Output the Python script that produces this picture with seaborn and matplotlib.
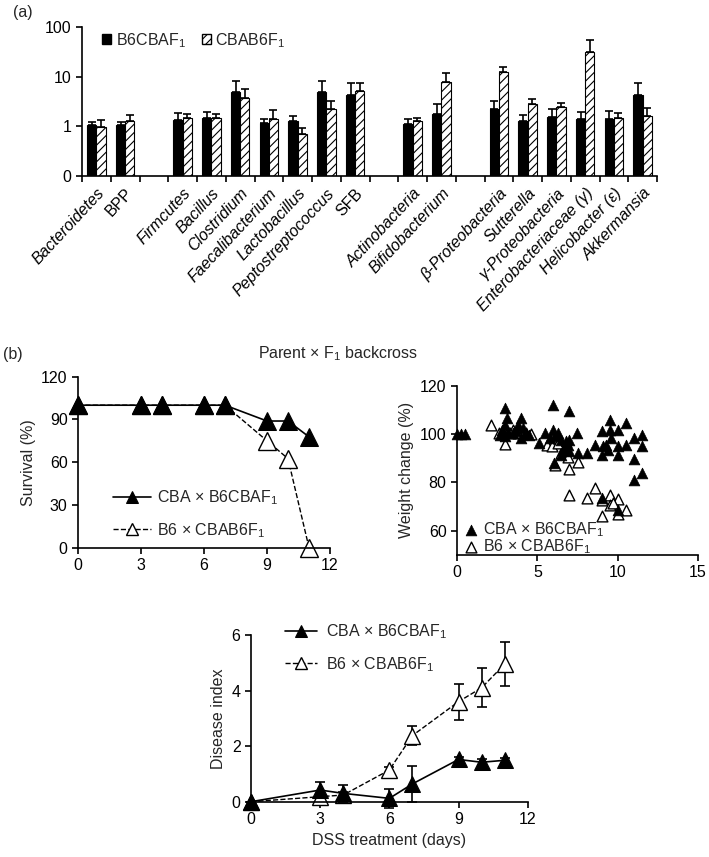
import numpy as np
import pandas as pd
import matplotlib
matplotlib.use("Agg")
import matplotlib.pyplot as plt
from matplotlib.patches import Patch
from matplotlib.ticker import NullLocator, FixedLocator
import seaborn as sns

sns.set_style("ticks")
plt.rcParams['font.family'] = ['Liberation Sans', 'DejaVu Sans']
plt.rcParams['mathtext.fontset'] = 'custom'
plt.rcParams['mathtext.rm'] = 'Liberation Sans'
plt.rcParams['mathtext.it'] = 'Liberation Sans:italic'
plt.rcParams['font.size'] = 11.5
plt.rcParams['hatch.linewidth'] = 0.8
plt.rcParams['axes.linewidth'] = 1.2
plt.rcParams['xtick.major.width'] = 1.2
plt.rcParams['ytick.major.width'] = 1.2
plt.rcParams['xtick.minor.width'] = 1.2
plt.rcParams['xtick.color'] = 'black'
plt.rcParams['ytick.color'] = 'black'
plt.rcParams['axes.edgecolor'] = 'black'

FS = 11.5

# ---------------- data: panel (a) ----------------
taxa = ['Bacteroidetes', 'BPP', ' ', 'Firmcutes', 'Bacillus', 'Clostridium',
        'Faecalibacterium', 'Lactobacillus', 'Peptostreptococcus', 'SFB', '  ',
        'Actinobacteria', 'Bifidobacterium', '   ', 'β-Proteobacteria', 'Sutterella',
        'γ-Proteobacteria', 'Enterobacteriaceae (γ)', 'Helicobacter (ε)', 'Akkermansia']
present_taxa = [t for t in taxa if t.strip()]
b6cbaf1 = [1.06, 1.06, 1.36, 1.45, 5.0, 1.15, 1.26, 5.0, 4.37, 1.13, 1.79,
           2.19, 1.26, 1.56, 1.42, 1.42, 4.37]
b6cbaf1_top = [1.2, 1.2, 1.82, 1.93, 8.1, 1.42, 1.63, 8.3, 7.36, 1.4, 2.76,
               3.3, 1.66, 2.19, 1.9, 2.0, 7.36]
cbab6f1 = [0.97, 1.26, 1.5, 1.47, 3.8, 1.42, 0.70, 2.25, 5.1, 1.26, 7.9,
           12.2, 2.8, 2.44, 31.6, 1.47, 1.61]
cbab6f1_top = [1.36, 1.66, 1.8, 1.74, 5.6, 2.09, 0.93, 3.26, 7.3, 1.49, 11.7,
               15.4, 3.6, 3.0, 55.8, 1.85, 2.29]
bar_yticks = [0.1, 1, 10, 100]
bar_yticklabels = ['0', '1', '10', '100']

# ---------------- data: survival ----------------
days = [0, 3, 4, 6, 7, 9, 10, 11]
surv_cba = [100, 100, 100, 100, 100, 88.9, 88.9, 77.8]
surv_b6 = [100, 100, 100, 100, 100, 75, 62.5, 0]

# ---------------- data: weight change ----------------
w_cba_x = [0.0, 0.25, 0.5, 3.0, 3.1, 3.0, 2.8, 3.2, 2.7, 3.0, 3.5, 4.0, 3.8, 4.1,
           4.3, 4.0, 4.5, 3.7, 6.0, 7.0, 5.1, 5.5, 6.0, 6.1, 5.8, 6.3, 6.5, 6.8,
           6.05, 6.5, 6.6, 6.9, 7.0, 7.45, 7.0, 6.7, 7.5, 8.1, 8.6, 9.0, 9.1, 9.0,
           9.5, 9.5, 9.6, 9.3, 9.4, 10.0, 10.0, 10.05, 10.5, 10.5, 11.0, 11.0,
           11.0, 11.5, 11.5, 11.5, 9.0, 10.0]
w_cba_y = [100, 100, 100, 110.7, 106.6, 103.9, 101.8, 101.0, 99.7, 99.0, 100.4,
           106.6, 103.9, 102.5, 100.4, 98.4, 99.7, 101.1, 112.1, 109.4, 96.3,
           100.4, 101.8, 99.0, 98.4, 100.4, 97.7, 97.0, 88.0, 91.5, 93.5, 95.6,
           97.7, 100.4, 92.8, 94.9, 92.1, 92.1, 95.6, 101.1, 94.9, 91.5, 105.9,
           101.8, 98.4, 95.6, 93.5, 101.8, 94.9, 91.5, 104.5, 95.6, 98.4, 89.8,
           81.1, 99.7, 95.2, 83.9, 73.5, 68.7]
w_b6_x = [2.1, 3.0, 2.6, 2.9, 3.5, 3.8, 3.3, 4.3, 4.6, 5.6, 5.9, 6.1, 6.5, 6.9,
          7.0, 7.5, 7.0, 8.1, 8.6, 9.0, 9.5, 9.5, 9.0, 10.0, 10.0, 10.5, 9.7,
          6.3, 6.8]
w_b6_y = [103.9, 95.9, 100.4, 101.4, 101.8, 100.4, 100.4, 100.4, 100.0, 95.6,
          94.9, 87.3, 92.1, 90.7, 85.6, 88.4, 74.9, 73.5, 77.7, 72.9, 74.9, 70.8,
          66.0, 73.1, 66.9, 68.7, 71.5, 96.3, 93.5]

# ---------------- data: disease index ----------------
di_cba = [0, 0.42, 0.30, 0.12, 0.64, 1.52, 1.42, 1.49]
di_cba_err = [0, 0.30, 0.31, 0.33, 0.64, 0.1, 0.1, 0.1]
di_b6 = [0, 0.18, 0.24, 1.14, 2.38, 3.60, 4.10, 4.95]
di_b6_err = [0, 0.1, 0.1, 0.1, 0.35, 0.65, 0.70, 0.80]

lab_cba = 'CBA × B6CBAF$_1$'
lab_b6 = 'B6 × CBAB6F$_1$'

fig = plt.figure(figsize=(7.09, 8.57), dpi=100)
W, H = 709.0, 857.0


def axes_px(l, t, r, b):
    return fig.add_axes([l / W, 1 - b / H, (r - l) / W, (b - t) / H])


# ================= panel (a) =================
ax = axes_px(82, 27, 657, 176)
df = pd.DataFrame({
    'taxon': present_taxa * 2,
    'strain': ['B6CBAF1'] * len(present_taxa) + ['CBAB6F1'] * len(present_taxa),
    'value': b6cbaf1 + cbab6f1,
})
tops = {('B6CBAF1', t): v for t, v in zip(present_taxa, b6cbaf1_top)}
tops.update({('CBAB6F1', t): v for t, v in zip(present_taxa, cbab6f1_top)})
vals = {('B6CBAF1', t): v for t, v in zip(present_taxa, b6cbaf1)}
vals.update({('CBAB6F1', t): v for t, v in zip(present_taxa, cbab6f1)})

sns.barplot(data=df, x='taxon', y='value', hue='strain', order=taxa,
            hue_order=['B6CBAF1', 'CBAB6F1'],
            palette={'B6CBAF1': 'black', 'CBAB6F1': 'white'},
            width=0.64, gap=0, edgecolor='black', linewidth=0.8,
            errorbar=None, ax=ax, legend=False)
ax.set_yscale('log')
for ci, strain in enumerate(['B6CBAF1', 'CBAB6F1']):
    cont = ax.containers[ci]
    xs, ys, es = [], [], []
    for bar in cont:
        h = bar.get_height()
        if not np.isfinite(h) or h <= 0:
            continue
        xc = bar.get_x() + bar.get_width() / 2
        name = taxa[int(round(xc))]
        if (strain, name) not in vals:
            continue
        if strain == 'CBAB6F1':
            bar.set_hatch('////')
        xs.append(xc)
        ys.append(vals[(strain, name)])
        es.append(tops[(strain, name)] - vals[(strain, name)])
    ax.errorbar(xs, ys, yerr=[np.zeros(len(es)), es], fmt='none',
                ecolor='black', elinewidth=1.2, capsize=3, capthick=1.2, zorder=1)

ax.set_ylim(0.1, 100)
ax.set_xlim(-0.5, len(taxa) - 0.5)
ax.yaxis.set_major_locator(FixedLocator(bar_yticks))
ax.yaxis.set_minor_locator(NullLocator())
ax.set_yticklabels(bar_yticklabels, fontsize=FS)
ax.set_xticks(range(len(taxa)))
ax.set_xticklabels([t.strip() for t in taxa], rotation=47, ha='right', va='top',
                   rotation_mode='anchor', fontsize=FS)
for tl, t in zip(ax.get_xticklabels(), taxa):
    if t.strip() not in ('BPP', 'SFB'):
        tl.set_fontstyle('italic')
ax.tick_params(axis='x', which='major', length=0, pad=7)
ax.set_xticks(np.arange(-0.5, len(taxa)), minor=True)
ax.tick_params(axis='x', which='minor', length=4, direction='out')
ax.tick_params(axis='y', length=4, direction='out')
ax.set_xlabel('')
ax.set_ylabel('')
sns.despine(ax=ax)
handles = [Patch(facecolor='black', edgecolor='black'),
           Patch(facecolor='white', edgecolor='black', hatch='////')]
ax.legend(handles, ['B6CBAF$_1$', 'CBAB6F$_1$'], loc='upper left',
          bbox_to_anchor=(0.01, 1.07), ncol=2, frameon=False, fontsize=FS,
          handlelength=0.55, handleheight=0.55, handletextpad=0.3, columnspacing=1.0)

fig.text(13 / W, 1 - 12 / H, '(a)', fontsize=FS, va='center', ha='left')
fig.text(3 / W, 1 - 354 / H, '(b)', fontsize=FS, va='center', ha='left')
fig.text(338 / W, 1 - 354 / H, 'Parent × F$_1$ backcross', fontsize=FS,
         va='center', ha='center')

# ================= survival =================
axs = axes_px(78, 376.7, 330, 547.7)
sns.lineplot(x=days, y=surv_cba, ax=axs, color='black', marker='^', markersize=13,
             markerfacecolor='black', markeredgecolor='black', linewidth=1.2,
             label=lab_cba, clip_on=False, zorder=3)
sns.lineplot(x=days, y=surv_b6, ax=axs, color='black', marker='^', markersize=13,
             markerfacecolor='white', markeredgecolor='black', markeredgewidth=1.0,
             linewidth=1.0, linestyle='--', label=lab_b6, clip_on=False, zorder=2)
axs.set_xlim(0, 12)
axs.set_ylim(0, 120)
axs.set_xticks([0, 3, 6, 9, 12])
axs.set_yticks([0, 30, 60, 90, 120])
axs.tick_params(labelsize=FS, length=4, direction='out')
axs.set_ylabel('Survival (%)', fontsize=FS)
sns.despine(ax=axs)
axs.legend(loc='upper left', bbox_to_anchor=(0.08, 0.43), frameon=False,
           fontsize=FS, handlelength=2.4, markerscale=0.7, labelspacing=0.85,
           handletextpad=0.4)

# ================= weight change =================
axw = axes_px(457, 385.7, 698, 555)
sns.scatterplot(x=w_b6_x, y=w_b6_y, ax=axw, marker='^', s=60, facecolor='white',
                edgecolor='black', linewidth=1.0, label=lab_b6, clip_on=False, zorder=2)
sns.scatterplot(x=w_cba_x, y=w_cba_y, ax=axw, marker='^', s=60, color='black',
                edgecolor='black', linewidth=0.5, label=lab_cba, clip_on=False, zorder=3)
axw.set_xlim(0, 15)
axw.set_ylim(50, 120)
axw.set_xticks([0, 5, 10, 15])
axw.set_yticks([60, 80, 100, 120])
axw.tick_params(labelsize=FS, length=4, direction='out')
axw.set_ylabel('Weight change (%)', fontsize=FS)
sns.despine(ax=axw)
h, l = axw.get_legend_handles_labels()
axw.legend([h[1], h[0]], [l[1], l[0]], loc='lower left', bbox_to_anchor=(-0.02, -0.07),
           frameon=False, fontsize=FS, labelspacing=-0.1, handletextpad=0.2,
           borderpad=0.2, handlelength=1.0)

# ================= disease index =================
axd = axes_px(251, 635, 527.7, 801.7)
sns.lineplot(x=days, y=di_cba, ax=axd, color='black', marker='^', markersize=12,
             markerfacecolor='black', markeredgecolor='black', linewidth=1.2,
             label=lab_cba, clip_on=False, zorder=3)
sns.lineplot(x=days, y=di_b6, ax=axd, color='black', marker='^', markersize=12,
             markerfacecolor='white', markeredgecolor='black', markeredgewidth=1.0,
             linewidth=1.0, linestyle='--', label=lab_b6, clip_on=False, zorder=2)
axd.errorbar(days, di_cba, yerr=di_cba_err, fmt='none', ecolor='black',
             elinewidth=1.2, capsize=3.5, capthick=1.2, zorder=2.5, clip_on=False)
axd.errorbar(days, di_b6, yerr=di_b6_err, fmt='none', ecolor='black',
             elinewidth=1.2, capsize=3.5, capthick=1.2, zorder=1.5, clip_on=False)
axd.set_xlim(0, 12)
axd.set_ylim(0, 6)
axd.set_xticks([0, 3, 6, 9, 12])
axd.set_yticks([0, 2, 4, 6])
axd.tick_params(labelsize=FS, length=4, direction='out')
axd.set_xlabel('DSS treatment (days)', fontsize=FS)
axd.set_ylabel('Disease index', fontsize=FS)
sns.despine(ax=axd)
axd.legend(loc='upper left', bbox_to_anchor=(0.07, 1.16), frameon=False,
           fontsize=FS, handlelength=2.0, markerscale=0.75, labelspacing=0.85,
           handletextpad=0.6)

fig.savefig('out.png', dpi=100)
